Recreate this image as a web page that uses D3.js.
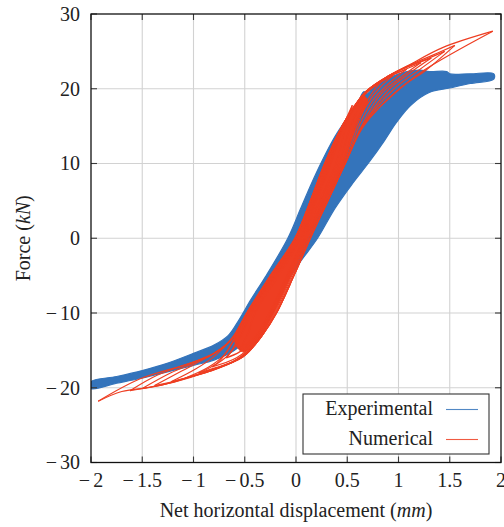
<!DOCTYPE html>
<html><head><meta charset="utf-8">
<script src="https://cdn.jsdelivr.net/npm/d3@7"></script>
<style>
html,body{margin:0;padding:0;background:#fff;}
text{font-family:"Liberation Serif","Times New Roman",Times,serif;fill:#222;}
</style></head>
<body><svg id="chart" width="504" height="527"></svg>
<script>
// ---------------- data ----------------
const xTicks = [-2, -1.5, -1, -0.5, 0, 0.5, 1, 1.5, 2];
const yTicks = [-30, -20, -10, 0, 10, 20, 30];
const xLabel = ["Net horizontal displacement (", "mm", ")"];
const yLabel = ["Force (", "kN", ")"];
const seriesNames = ["Experimental", "Numerical"];

// Experimental: envelope of the dense cyclic loops (upper / lower edge), [mm, kN]
const expUpper = [[-2.0,-19.2],[-1.75,-18.5],[-1.5,-17.7],[-1.25,-16.7],[-1.0,-15.4],[-0.8,-14.3],[-0.66,-13.0],[-0.56,-11.0],[-0.44,-8.2],[-0.3,-5.2],[-0.08,0],[0.04,3.8],[0.15,7.3],[0.26,10.5],[0.38,13.6],[0.49,15.9],[0.6,18.0],[0.66,19.6],[0.7,19.4],[0.78,20.6],[0.92,21.5],[1.05,22.2],[1.21,22.5],[1.3,22.3],[1.47,22.3],[1.5,22.0],[1.7,22.0],[1.93,22.0]];
const expLower = [[-2.0,-20.1],[-1.75,-19.4],[-1.5,-18.7],[-1.0,-17.0],[-0.8,-16.3],[-0.6,-15.0],[-0.45,-13.0],[-0.3,-10.0],[-0.1,-6.0],[0.05,-3.0],[0.21,0],[0.38,4.0],[0.55,7.3],[0.72,10.3],[0.86,13.0],[0.98,15.5],[1.12,17.8],[1.3,19.5],[1.5,20.1],[1.7,20.7],[1.93,21.3]];

// Numerical: dense core where the cyclic loops overlap (left / right edge), [mm, kN]
const numCoreLeft = [[-0.60,-13.6],[-0.47,-10],[-0.24,-5],[0.0,0],[0.15,5],[0.29,10],[0.46,15],[0.57,17.5],[0.66,19.0]];
const numCoreRight = [[0.70,18.4],[0.60,15.6],[0.46,10],[0.29,5],[0.11,0],[-0.05,-5],[-0.22,-10],[-0.37,-13.6],[-0.52,-15.2]];

// Numerical: cyclic loops (ascending branch then descending branch), [mm, kN]
const numLoop1 = [[-0.55,-14.8],[-0.47,-12.8],[-0.40,-10],[-0.17,-5],[0.05,0],[0.20,5],[0.34,10],[0.46,15],[0.55,17.8],
                  [0.49,15.2],[0.39,10],[0.23,5],[0.07,0],[-0.09,-5],[-0.26,-10],[-0.40,-13.2],[-0.55,-14.8]];
const numLoop2 = [[-0.68,-16.0],[-0.58,-14.2],[-0.43,-10],[-0.20,-5],[0.04,0],[0.19,5],[0.33,10],[0.47,15],[0.58,17.6],[0.68,19.5],
                  [0.60,17.2],[0.52,14.5],[0.42,10],[0.25,5],[0.08,0],[-0.08,-5],[-0.25,-10],[-0.40,-13.5],[-0.55,-15.2],[-0.68,-16.0]];
const numLoop3 = [[-0.82,-17.2],[-0.66,-15.6],[-0.55,-13.0],[-0.45,-10],[-0.21,-5],[0.03,0],[0.18,5],[0.32,10],[0.46,15],[0.58,17.8],[0.70,19.6],[0.82,20.8],
                  [0.72,19.0],[0.60,16.0],[0.45,10],[0.27,5],[0.09,0],[-0.07,-5],[-0.24,-10],[-0.39,-13.7],[-0.58,-16.0],[-0.82,-17.2]];
const numLoop4 = [[-0.95,-18.0],[-0.76,-16.6],[-0.61,-13.8],[-0.46,-10],[-0.22,-5],[0.02,0],[0.17,5],[0.31,10],[0.46,15],[0.57,17.7],[0.70,19.7],[0.82,20.8],[0.95,21.8],
                  [0.82,20.2],[0.68,17.6],[0.57,14.2],[0.46,10],[0.28,5],[0.10,0],[-0.06,-5],[-0.23,-10],[-0.38,-13.8],[-0.60,-16.4],[-0.78,-17.3],[-0.95,-18.0]];
const numLoop5 = [[-1.08,-18.7],[-0.86,-17.3],[-0.70,-15.6],[-0.58,-12.8],[-0.47,-10],[-0.23,-5],[0.01,0],[0.16,5],[0.30,10],[0.46,15],[0.57,17.6],[0.70,19.8],[0.88,21.4],[1.08,22.6],
                  [0.93,21.0],[0.76,18.6],[0.62,15.2],[0.47,10],[0.29,5],[0.11,0],[-0.05,-5],[-0.22,-10],[-0.37,-13.6],[-0.58,-16.3],[-0.84,-17.8],[-1.08,-18.7]];
const numLoop6 = [[-1.22,-19.2],[-0.98,-17.5],[-0.78,-15.6],[-0.62,-13.3],[-0.48,-10],[-0.24,-5],[0.00,0],[0.15,5],[0.29,10],[0.45,15],[0.57,17.7],[0.69,19.7],[0.90,21.6],[1.05,22.5],[1.22,23.5],
                  [1.03,21.6],[0.83,19.3],[0.64,15.0],[0.48,10],[0.30,5],[0.12,0],[-0.04,-5],[-0.21,-10],[-0.35,-13.4],[-0.55,-16.0],[-0.88,-18.0],[-1.05,-18.6],[-1.22,-19.2]];
const numLoop7 = [[-1.38,-19.7],[-1.12,-17.8],[-0.90,-16.2],[-0.75,-15.0],[-0.62,-13.3],[-0.48,-10],[-0.25,-5],[-0.01,0],[0.14,5],[0.28,10],[0.45,15],[0.57,17.7],[0.68,19.6],[0.90,21.7],[1.10,23.0],[1.32,24.1],
                  [1.10,22.0],[0.90,19.8],[0.65,15],[0.48,10],[0.31,5],[0.13,0],[-0.03,-5],[-0.20,-10],[-0.34,-13.2],[-0.53,-15.9],[-0.88,-17.9],[-1.12,-18.9],[-1.38,-19.7]];
const numLoop8 = [[-1.50,-20.1],[-1.22,-18.0],[-1.00,-16.7],[-0.80,-15.4],[-0.62,-13.4],[-0.48,-10],[-0.25,-5],[-0.01,0],[0.14,5],[0.28,10],[0.45,15],[0.57,17.6],[0.68,19.6],[0.90,21.7],[1.10,23.0],[1.28,24.0],[1.45,25.0],
                  [1.18,22.3],[0.95,19.9],[0.65,15],[0.48,10],[0.31,5],[0.14,0],[-0.02,-5],[-0.19,-10],[-0.33,-13],[-0.52,-15.9],[-0.87,-17.8],[-1.18,-19.2],[-1.50,-20.1]];
const numLoop9 = [[-1.62,-20.4],[-1.35,-18.3],[-1.03,-16.7],[-0.80,-15.4],[-0.62,-13.4],[-0.48,-10],[-0.25,-5],[-0.01,0],[0.14,5],[0.28,10],[0.45,15],[0.57,17.6],[0.68,19.6],[0.90,21.7],[1.08,23.0],[1.30,24.3],[1.55,25.8],
                  [1.27,22.5],[1.0,19.9],[0.66,15],[0.48,10],[0.31,5],[0.14,0],[-0.02,-5],[-0.19,-10],[-0.33,-13],[-0.52,-15.9],[-0.87,-17.9],[-1.2,-19.3],[-1.62,-20.4]];
const numLoop10 = [[-1.93,-21.8],[-1.52,-18.8],[-1.03,-16.7],[-0.80,-15.4],[-0.62,-13.4],[-0.48,-10],[-0.25,-5],[-0.01,0],[0.14,5],[0.28,10],[0.45,15],[0.57,17.6],[0.68,19.6],[0.90,21.7],[1.08,23.0],[1.43,25.5],[1.92,27.7],
                   [1.24,22.4],[0.98,19.6],[0.65,15],[0.48,10],[0.31,5],[0.14,0],[-0.02,-5],[-0.19,-10],[-0.33,-13],[-0.52,-15.9],[-0.87,-17.8],[-1.03,-18.5],[-1.36,-19.8],[-1.70,-20.5],[-1.93,-21.8]];
const numLoops = [numLoop1, numLoop2, numLoop3, numLoop4, numLoop5, numLoop6, numLoop7, numLoop8, numLoop9, numLoop10];

// ---------------- drawing ----------------
const W = 504, H = 527;
const M = {left: 91, right: 501, top: 14, bottom: 462.5};
const colExp = "#3474bb", colNum = "#ee3e22";
const FONT = "'Liberation Serif','Times New Roman',Times,serif";
const svg = d3.select("#chart").attr("font-family", FONT);
const x = d3.scaleLinear().domain([-2, 2]).range([M.left, M.right]);
const y = d3.scaleLinear().domain([-30, 30]).range([M.bottom, M.top]);

svg.append("rect").attr("width", W).attr("height", H).attr("fill", "#fff");

// grid
const grid = svg.append("g");
grid.selectAll(".gx").data(xTicks.slice(1, -1)).join("line")
  .attr("x1", d => x(d)).attr("x2", d => x(d)).attr("y1", M.top).attr("y2", M.bottom)
  .attr("stroke", "#d2d2d2").attr("stroke-width", 1.1);
grid.selectAll(".gy").data(yTicks.slice(1, -1)).join("line")
  .attr("y1", d => y(d)).attr("y2", d => y(d)).attr("x1", M.left).attr("x2", M.right)
  .attr("stroke", "#d2d2d2").attr("stroke-width", 1.1);

svg.append("clipPath").attr("id", "clip").append("rect")
  .attr("x", M.left).attr("y", M.top).attr("width", M.right - M.left).attr("height", M.bottom - M.top);
const plot = svg.append("g").attr("clip-path", "url(#clip)");

// experimental band
const closed = d3.line().x(d => x(d[0])).y(d => y(d[1])).curve(d3.curveCatmullRomClosed.alpha(0.5));
plot.append("path").datum(expUpper.concat(expLower.slice().reverse()))
  .attr("d", closed).attr("fill", colExp).attr("stroke", colExp).attr("stroke-width", 1.2)
  .attr("stroke-linejoin", "round");

// numerical dense core
plot.append("path").datum(numCoreLeft.concat(numCoreRight))
  .attr("d", closed).attr("fill", colNum).attr("stroke", colNum).attr("stroke-width", 1);

// numerical loops
const ln = d3.line().x(d => x(d[0])).y(d => y(d[1])).curve(d3.curveCatmullRom.alpha(0.5));
numLoops.forEach(loop => {
  let pk = 0;
  loop.forEach((p, i) => { if (p[1] > loop[pk][1]) pk = i; });
  [loop.slice(0, pk + 1), loop.slice(pk)].forEach(br => {
    plot.append("path").datum(br).attr("d", ln).attr("fill", "none")
      .attr("stroke", colNum).attr("stroke-width", 1.2).attr("stroke-linejoin", "round");
  });
});

// axes (ticks inside on all sides)
const tickLen = 6;
const axes = svg.append("g").attr("stroke", "#3a3a3a").attr("stroke-width", 1.1);
xTicks.forEach(t => {
  axes.append("line").attr("x1", x(t)).attr("x2", x(t)).attr("y1", M.bottom).attr("y2", M.bottom - tickLen);
  axes.append("line").attr("x1", x(t)).attr("x2", x(t)).attr("y1", M.top).attr("y2", M.top + tickLen);
});
yTicks.forEach(t => {
  axes.append("line").attr("y1", y(t)).attr("y2", y(t)).attr("x1", M.left).attr("x2", M.left + tickLen);
  axes.append("line").attr("y1", y(t)).attr("y2", y(t)).attr("x1", M.right).attr("x2", M.right - tickLen);
});
svg.append("rect").attr("x", M.left).attr("y", M.top).attr("width", M.right - M.left).attr("height", M.bottom - M.top)
  .attr("fill", "none").attr("stroke", "#111").attr("stroke-width", 1.3);

function numLabel(sel, v) {
  const s = String(Math.abs(v));
  if (v < 0) { sel.append("tspan").text("\u2212"); sel.append("tspan").attr("dx", 3).text(s); }
  else sel.text(s);
}
const fs = 20;
xTicks.forEach(t => {
  const tx = svg.append("text").attr("x", x(t)).attr("y", 487).attr("text-anchor", "middle")
    .attr("font-size", fs).attr("font-family", FONT);
  numLabel(tx, t);
});
yTicks.forEach(t => {
  const ty = svg.append("text").attr("x", 80).attr("y", y(t) + 6.8).attr("text-anchor", "end")
    .attr("font-size", fs).attr("font-family", FONT);
  numLabel(ty, t);
});

// axis titles
const xt = svg.append("text").attr("x", x(0)).attr("y", 517).attr("text-anchor", "middle")
  .attr("font-size", fs).attr("font-family", FONT);
xt.append("tspan").text(xLabel[0]);
xt.append("tspan").attr("font-style", "italic").text(xLabel[1]);
xt.append("tspan").text(xLabel[2]);
const yt = svg.append("text").attr("transform", `translate(30,${y(0)}) rotate(-90)`).attr("text-anchor", "middle")
  .attr("font-size", fs).attr("font-family", FONT);
yt.append("tspan").text(yLabel[0]);
yt.append("tspan").attr("font-style", "italic").text(yLabel[1]);
yt.append("tspan").text(yLabel[2]);

// legend
const lg = svg.append("g");
lg.append("rect").attr("x", 303).attr("y", 394).attr("width", 186).attr("height", 60)
  .attr("fill", "#fff").attr("stroke", "#333").attr("stroke-width", 1.1);
[colExp, colNum].forEach((c, i) => {
  lg.append("text").attr("x", 433).attr("y", 415 + i * 30).attr("text-anchor", "end")
    .attr("font-size", fs).attr("font-family", FONT).text(seriesNames[i]);
  lg.append("line").attr("x1", 446).attr("x2", 478).attr("y1", 409.5 + i * 30).attr("y2", 409.5 + i * 30)
    .attr("stroke", c).attr("stroke-width", 1.1).attr("opacity", 0.85);
});
</script></body></html>
